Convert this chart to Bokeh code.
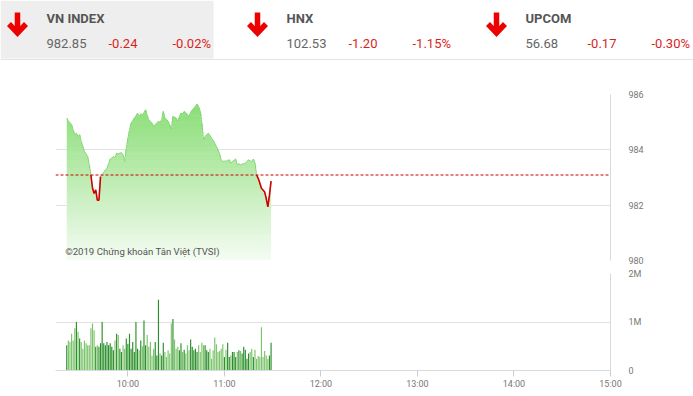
import numpy as np
from bokeh.plotting import figure
from bokeh.layouts import column
from bokeh.models import Range1d, FixedTicker, Span, Label
from bokeh.core.properties import value
from bokeh.embed import file_html
from bokeh.resources import INLINE

# ---------------- data ----------------
first_minute = 22          # first trade point: 9:22 (minutes after 9:00)
prev_close = 983.09

price = [
    985.15, 985.05, 984.98, 984.91, 984.72, 984.55, 984.60, 984.48, 984.55, 984.30,
    984.12, 983.94, 983.85, 983.76, 983.45, 983.09, 982.62, 982.42, 982.55, 982.18,
    982.18, 983.03, 983.12, 983.19, 983.28, 983.33, 983.50, 983.67, 983.70, 983.76,
    983.72, 983.88, 983.85, 983.88, 983.90, 983.82, 983.58, 984.05, 984.42, 984.70,
    984.97, 985.05, 985.15, 985.22, 985.33, 985.20, 985.30, 985.27, 985.35, 985.45,
    985.25, 985.09, 985.02, 984.97, 984.85, 984.92, 984.98, 985.03, 985.00, 985.09,
    985.39, 985.15, 985.10, 985.03, 984.90, 984.73, 985.21, 985.18, 985.15, 985.03,
    985.20, 985.33, 985.30, 985.39, 985.35, 985.28, 985.21, 985.35, 985.45, 985.50,
    985.58, 985.66, 985.55, 985.39, 984.97, 984.36, 984.48, 984.55, 984.60, 984.52,
    984.42, 984.35, 984.24, 984.12, 984.00, 983.85, 983.64, 983.58, 983.60, 983.58,
    983.62, 983.64, 983.52, 983.58, 983.62, 983.67, 983.45, 983.50, 983.46, 983.48,
    983.50, 983.52, 983.58, 983.64, 983.60, 983.58, 983.67, 983.52, 983.09, 982.97,
    982.80, 982.61, 982.55, 982.48, 982.24, 981.94, 982.36, 982.87,
]

volume_m = [
    0.52, 0.62, 0.59, 0.76, 0.62, 0.87, 1.00, 0.80, 0.66, 0.59,
    0.45, 0.62, 0.56, 0.52, 0.52, 0.87, 0.97, 0.83, 0.49, 0.52,
    0.49, 0.56, 1.00, 0.56, 0.52, 0.59, 0.52, 0.56, 0.49, 0.42,
    0.62, 0.76, 0.73, 0.45, 0.38, 0.52, 0.45, 0.66, 0.55, 0.76,
    0.45, 0.59, 0.38, 1.00, 0.45, 0.42, 0.62, 0.50, 1.03, 0.52,
    0.73, 0.49, 0.59, 0.31, 0.45, 0.59, 0.31, 1.46, 0.35, 0.31,
    0.57, 0.38, 0.28, 0.42, 0.35, 0.97, 1.06, 0.64, 0.45, 0.49,
    0.42, 0.56, 0.38, 0.43, 0.35, 0.52, 0.42, 0.64, 0.49, 0.42,
    0.45, 0.38, 0.52, 0.38, 0.57, 0.52, 0.52, 0.42, 0.38, 0.45,
    0.24, 0.42, 0.68, 0.54, 0.38, 0.40, 0.45, 0.54, 0.28, 0.43,
    0.57, 0.28, 0.31, 0.38, 0.38, 0.28, 0.38, 0.42, 0.40, 0.35,
    0.49, 0.43, 0.24, 0.35, 0.38, 0.45, 0.28, 0.43, 0.24, 0.30,
    0.28, 0.89, 0.28, 0.40, 0.31, 0.24, 0.31, 0.57,
]

time_ticks = [60, 120, 180, 240, 300, 360]
time_labels = ["10:00", "11:00", "12:00", "13:00", "14:00", "15:00"]
price_ticks = [980, 982, 984, 986]
vol_ticks = [0, 1_000_000, 2_000_000]
vol_labels = ["0", "1M", "2M"]

idx_names = ["VN INDEX", "HNX", "UPCOM"]
idx_values = ["982.85", "102.53", "56.68"]
idx_changes = ["-0.24", "-1.20", "-0.17"]
idx_pcts = ["-0.02%", "-1.15%", "-0.30%"]

watermark = "©2019 Chứng khoán Tân Việt (TVSI)"

# ---------------- derived ----------------
price = np.array(price)
vol = np.array(volume_m) * 1_000_000
t = first_minute + np.arange(len(price))
X_START, X_END = 15, 360
FONT = "Roboto"
RED = "#d81f1f"

# ---------------- header ----------------
hdr = figure(width=693, height=60, x_range=Range1d(0, 693), y_range=Range1d(60, 0),
             toolbar_location=None, output_backend="svg", min_border=0,
             x_axis_location=None, y_axis_location=None)
hdr.frame_align = False
hdr.outline_line_color = None
hdr.grid.visible = False
hdr.background_fill_color = "white"
hdr.border_fill_color = "white"

block_off = np.array([0, 240, 479])
hdr.quad(left=[0], right=[213], top=[0], bottom=[58], fill_color="#eeeeee", line_color=None)
hdr.segment(x0=[0], y0=[59], x1=[693], y1=[59], line_color="#e3e3e3", line_width=1)

ax = block_off + 17
hdr.segment(x0=ax, y0=[12] * 3, x1=ax, y1=[32] * 3, line_color="#ee0000", line_width=5.5)
hdr.multi_line(xs=[[a - 8.5, a, a + 8.5] for a in ax], ys=[[23.5, 32.5, 23.5]] * 3,
               line_color="#ee0000", line_width=5.5, line_join="miter")

hdr.text(x=block_off + 46, y=[18] * 3, text=idx_names, text_font=value(FONT),
         text_font_style="bold", text_font_size="13px", text_color="#555555",
         text_baseline="middle")
hdr.text(x=block_off + 46, y=[43] * 3, text=idx_values, text_font=value(FONT),
         text_font_size="13px", text_color="#666666", text_baseline="middle")
hdr.text(x=block_off + 108, y=[43] * 3, text=idx_changes, text_font=value(FONT),
         text_font_size="13px", text_color=RED, text_baseline="middle")
hdr.text(x=block_off + 172, y=[43] * 3, text=idx_pcts, text_font=value(FONT),
         text_font_size="13px", text_color=RED, text_baseline="middle")

# ---------------- price chart ----------------
pp = figure(width=693, height=206, x_range=Range1d(X_START, X_END), y_range=Range1d(980, 986),
            toolbar_location=None, output_backend="svg",
            x_axis_location=None, y_axis_location="right",
            min_border_left=55, min_border_right=83, min_border_top=34, min_border_bottom=6)
pp.outline_line_color = None
pp.xgrid.visible = False
pp.ygrid.ticker = FixedTicker(ticks=price_ticks)
pp.ygrid.grid_line_color = "#e2e2e2"
pp.yaxis.ticker = FixedTicker(ticks=price_ticks)
pp.yaxis.axis_line_color = "#d5d9e0"
pp.yaxis.major_tick_line_color = None
pp.yaxis.minor_tick_line_color = None
pp.yaxis.major_label_text_font = FONT
pp.yaxis.major_label_text_font_size = "9px"
pp.yaxis.major_label_text_color = "#777777"
pp.yaxis.major_label_standoff = 12

# gradient fill under the price curve, built from horizontal bands
top_rgb = np.array([132, 220, 112])
bot_rgb = np.array([246, 252, 244])
n_bands = 48
edges = np.linspace(980, 986, n_bands + 1)
for k in range(n_bands):
    b0, b1 = edges[k], edges[k + 1]
    frac = (0.5 * (b0 + b1) - 980) / 6.0
    c = (bot_rgb + (top_rgb - bot_rgb) * frac).astype(int)
    col = "#%02x%02x%02x" % tuple(c)
    lo = b0 - 0.02 if k > 0 else b0
    y2 = np.clip(price, lo, b1 + 0.001)
    pp.varea(x=t, y1=np.full(len(t), lo), y2=y2, fill_color=col)

pp.line(t, price, line_color="#86d676", line_width=1)
below = np.where(price <= prev_close + 0.005, price, np.nan)
pp.line(t, below, line_color="#d40000", line_width=1.6)

pp.add_layout(Span(location=prev_close, dimension="width", line_color="#cc0000",
                   line_dash="3 2", line_width=1))
pp.add_layout(Label(x=21.0, y=980.33, text=watermark, text_font=FONT, text_font_size="9.6px",
                    text_color="#555555", text_baseline="middle"))

# ---------------- volume chart ----------------
vp = figure(width=693, height=130, x_range=pp.x_range, y_range=Range1d(0, 2_000_000),
            toolbar_location=None, output_backend="svg", y_axis_location="right",
            min_border_left=55, min_border_right=83, min_border_top=7, min_border_bottom=26)
vp.outline_line_color = None
vp.xgrid.visible = False
vp.ygrid.ticker = FixedTicker(ticks=vol_ticks)
vp.ygrid.grid_line_color = "#e2e2e2"

colors = ["#2a8f2a" if (i == 0 or price[i] >= price[i - 1]) else "#7cc46c" for i in range(len(price))]
vp.vbar(x=t, top=vol, width=0.72, fill_color=colors, line_color=None)

vp.yaxis.ticker = FixedTicker(ticks=vol_ticks)
vp.yaxis.major_label_overrides = dict(zip(vol_ticks, vol_labels))
vp.yaxis.axis_line_color = "#d5d9e0"
vp.yaxis.major_tick_line_color = None
vp.yaxis.minor_tick_line_color = None
vp.yaxis.major_label_text_font = FONT
vp.yaxis.major_label_text_font_size = "9px"
vp.yaxis.major_label_text_color = "#777777"
vp.yaxis.major_label_standoff = 12

vp.xaxis.ticker = FixedTicker(ticks=time_ticks)
vp.xaxis.major_label_overrides = dict(zip(time_ticks, time_labels))
vp.xaxis.axis_line_color = "#d5d9e0"
vp.xaxis.major_tick_line_color = "#c8ccd4"
vp.xaxis.major_tick_in = 0
vp.xaxis.major_tick_out = 6
vp.xaxis.minor_tick_line_color = None
vp.xaxis.major_label_text_font = FONT
vp.xaxis.major_label_text_font_size = "9px"
vp.xaxis.major_label_text_color = "#777777"
vp.xaxis.major_label_standoff = 2

for f in (pp, vp):
    f.background_fill_color = "white"
    f.border_fill_color = "white"

layout = column(hdr, pp, vp, spacing=0)
open("out.html", "w").write(file_html(layout, INLINE))
